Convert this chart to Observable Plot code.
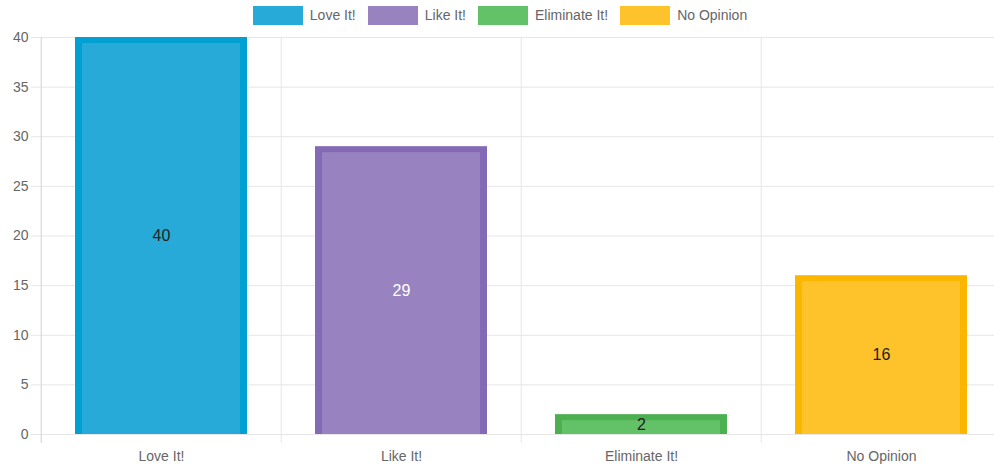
<!DOCTYPE html>
<html>
<head>
<meta charset="utf-8">
<script src="https://cdn.jsdelivr.net/npm/d3@7"></script>
<script src="https://cdn.jsdelivr.net/npm/@observablehq/plot@0.6"></script>
<style>
  html, body { margin: 0; padding: 0; background: #fff; overflow: hidden; }
  body { width: 994px; height: 469px; font-family: Arial, "Liberation Sans", sans-serif; }
  #legend { width: 1000px; height: 30px; display: flex; justify-content: center; align-items: flex-start; padding-top: 6px; box-sizing: border-box; font-size: 14px; color: #666; }
  .item { display: flex; align-items: center; margin: 0 6px; }
  .box { width: 50px; height: 19px; margin-right: 7px; }
  .lab { line-height: 19px; }
  #chart { width: 994px; height: 439px; overflow: hidden; }
  #chart svg { display: block; max-width: none !important; }
</style>
</head>
<body>
<div id="legend"></div>
<div id="chart"></div>
<script>
const categories = ["Love It!", "Like It!", "Eliminate It!", "No Opinion"];
const votes = [40, 29, 2, 16];
const yTicks = [0, 5, 10, 15, 20, 25, 30, 35, 40];

const fillColors = ["#27aad8", "#9883c0", "#63c168", "#fec22a"];
const borderColors = ["#00a0d2", "#8369b6", "#4caf50", "#fbb600"];
const labelColors = ["#222", "#fff", "#222", "#222"];

const data = categories.map((c, i) => ({category: c, value: votes[i], i}));

const legend = document.getElementById("legend");
categories.forEach((c, i) => {
  const it = document.createElement("div");
  it.className = "item";
  it.innerHTML = `<div class="box" style="background:${fillColors[i]}"></div><span class="lab">${c}</span>`;
  legend.appendChild(it);
});

const chart = Plot.plot({
  width: 1002,
  height: 439,
  marginLeft: 40,
  marginRight: 0,
  marginTop: 7,
  marginBottom: 35,
  style: {fontFamily: "Arial, 'Liberation Sans', sans-serif", background: "#fff", maxWidth: "none"},
  x: {domain: categories, padding: 0, label: null},
  y: {domain: [0, 40], label: null},
  marks: [
    Plot.ruleY(yTicks, {y: d => d, stroke: "#e6e6e6", insetLeft: -9}),
    Plot.ruleX(categories, {x: d => d, dx: -120.25, y1: 40, y2: 0, stroke: "#e6e6e6", insetBottom: -9}),
    Plot.ruleX([categories[0]], {x: d => d, dx: -120.25, y1: 40, y2: 0, stroke: "#d9d9d9", insetBottom: -9}),
    Plot.barY(data, {x: "category", y: "value", fill: d => borderColors[d.i], insetLeft: 34, insetRight: 34}),
    Plot.barY(data, {x: "category", y: "value", fill: d => fillColors[d.i], insetLeft: 41, insetRight: 41, insetTop: 6}),
    Plot.text(data, {x: "category", y: d => d.value / 2, text: d => String(d.value), fill: d => labelColors[d.i], fontSize: 16}),
    Plot.axisY(yTicks, {tickSize: 0, tickPadding: 12, fontSize: 14, fill: "#666", label: null}),
    Plot.axisX({tickSize: 0, tickPadding: 17, fontSize: 14, fill: "#666", label: null})
  ]
});
chart.style.maxWidth = "none";
document.getElementById("chart").appendChild(chart);
</script>
</body>
</html>
